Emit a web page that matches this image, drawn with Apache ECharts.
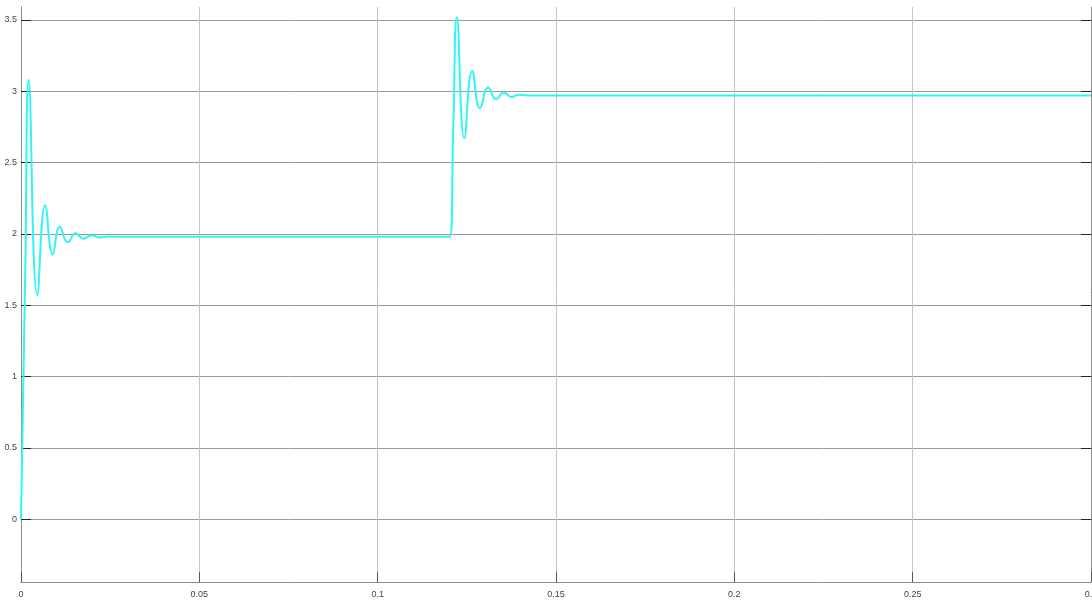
<!DOCTYPE html>
<html>
<head>
<meta charset="utf-8">
<script src="https://cdn.jsdelivr.net/npm/echarts@6/dist/echarts.min.js"></script>
<style>
  html, body { margin: 0; padding: 0; background: #ffffff; }
  #chart { width: 1092px; height: 602px; }
</style>
</head>
<body>
<div id="chart"></div>
<script>
// Step response: time (s) and signal value at the start, the peaks and troughs, and the settled levels
const times = [
  0, 0.0012, 0.00215,
  0.00457, 0.0068, 0.0089, 0.0109, 0.0131, 0.0153, 0.0175, 0.0198,
  0.0220, 0.0245, 0.0300, 0.1202,
  0.1212, 0.1222, 0.1243, 0.1265, 0.1287, 0.1310, 0.1332, 0.1354,
  0.1375, 0.1396, 0.1420, 0.3000
];
const values = [
  0, 1.75, 3.08,
  1.57, 2.20, 1.857, 2.05, 1.941, 2.004, 1.966, 1.99,
  1.975, 1.981, 1.98, 1.98,
  2.75, 3.518, 2.67, 3.141, 2.88, 3.025, 2.944, 2.99,
  2.96, 2.975, 2.97, 2.97
];
const xTicks = [0, 0.05, 0.1, 0.15, 0.2, 0.25, 0.3];
const yTicks = [0, 0.5, 1, 1.5, 2, 2.5, 3, 3.5];
const yMin = -0.44, yMax = 3.59;

const points = times.map((t, i) => [t, values[i]]);

const labelFont = { fontFamily: 'Liberation Sans, Arial, sans-serif', fontSize: 9, color: '#444' };

const chart = echarts.init(document.getElementById('chart'), null, { renderer: 'canvas' });
chart.setOption({
  animation: false,
  backgroundColor: '#ffffff',
  grid: { left: 21, right: 1, top: 7, bottom: 20, outerBoundsMode: 'none', containLabel: false },
  xAxis: {
    type: 'value', min: xTicks[0], max: xTicks[xTicks.length - 1], interval: 0.05,
    axisLine: { show: true, onZero: false, lineStyle: { color: '#8c8c8c', width: 1 } },
    axisTick: { show: true, inside: true, length: 10, lineStyle: { color: '#555', width: 1 } },
    axisLabel: Object.assign({ margin: 8, showMinLabel: true, showMaxLabel: true, hideOverlap: false }, labelFont),
    splitLine: { show: true, lineStyle: { color: '#c4c4c4', width: 1 } }
  },
  yAxis: [{
    type: 'value', min: yMin, max: yMax,
    axisLine: { show: true, lineStyle: { color: '#8c8c8c', width: 1 } },
    axisTick: { show: true, inside: true, length: 10, customValues: yTicks, lineStyle: { color: '#222', width: 1 } },
    axisLabel: Object.assign({ margin: 4, customValues: yTicks }, labelFont),
    splitLine: { show: true, lineStyle: { color: '#9a9a9a', width: 1 } }
  }, {
    type: 'value', min: yMin, max: yMax, position: 'right',
    axisLine: { show: true, lineStyle: { color: '#8c8c8c', width: 1 } },
    axisTick: { show: true, inside: true, length: 10, customValues: yTicks, lineStyle: { color: '#222', width: 1 } },
    axisLabel: { show: false },
    splitLine: { show: false }
  }],
  series: [{
    type: 'line',
    data: points,
    yAxisIndex: 0,
    showSymbol: false,
    smooth: 0.5,
    lineStyle: { color: '#2ff5f5', width: 2 }
  }]
});
</script>
</body>
</html>
